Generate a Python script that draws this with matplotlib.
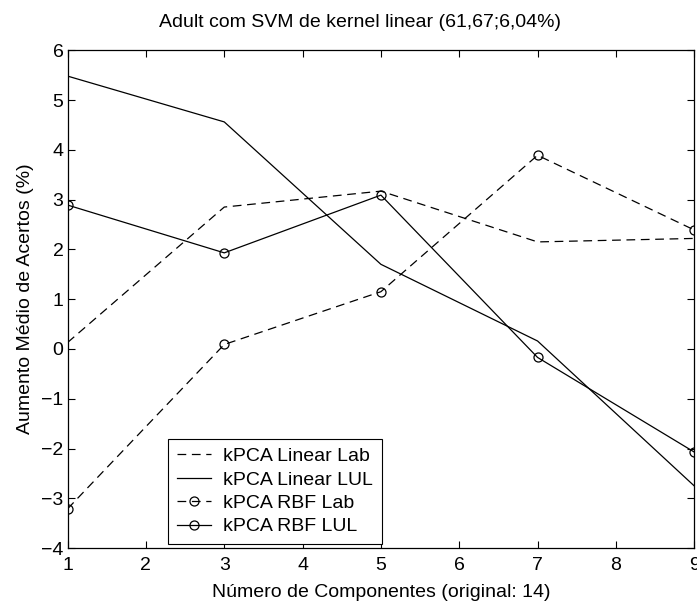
import matplotlib
matplotlib.use("Agg")
import matplotlib.pyplot as plt

plt.rcParams["font.family"] = ["Liberation Sans", "DejaVu Sans"]
plt.rcParams["font.size"] = 14

# Numero de componentes
componentes = [1, 3, 5, 7, 9]

# Aumento medio de acertos (%) para cada variante
linear_lab = [0.13, 2.85, 3.17, 2.15, 2.22]
linear_lul = [5.48, 4.56, 1.70, 0.16, -2.75]
rbf_lab = [-3.21, 0.09, 1.15, 3.89, 2.39]
rbf_lul = [2.89, 1.93, 3.09, -0.17, -2.07]

rotulos = ["kPCA Linear Lab", "kPCA Linear LUL", "kPCA RBF Lab", "kPCA RBF LUL"]

fig = plt.figure(figsize=(6.97, 6.05), dpi=100)
ax = fig.add_axes([0.097, 0.094, 0.899, 0.823])

lw = 0.9
ax.plot(componentes, linear_lab, color="black", lw=lw, dashes=(7, 4.5), label=rotulos[0])
ax.plot(componentes, linear_lul, color="black", lw=lw, label=rotulos[1])
ax.plot(componentes, rbf_lab, color="black", lw=lw, dashes=(7, 4.5), marker="o",
        markersize=6.5, markerfacecolor="none", markeredgewidth=0.9, label=rotulos[2])
ax.plot(componentes, rbf_lul, color="black", lw=lw, marker="o",
        markersize=6.5, markerfacecolor="none", markeredgewidth=0.9, label=rotulos[3])

ax.set_xlim(1, 9)
ax.set_ylim(-4, 6)
ax.set_xticks(range(1, 10))
ax.set_yticks(range(-4, 7))
ax.tick_params(direction="in", top=True, right=True, length=5, width=0.8)
ax.tick_params(axis="x", pad=6.5)
ax.tick_params(axis="y", pad=3)
for s in ax.spines.values():
    s.set_linewidth(0.9)

ax.set_title("Adult com SVM de kernel linear (61,67;6,04%)", fontsize=14,
             x=0.467, y=1.046, pad=0)
ax.set_xlabel("Número de Componentes (original: 14)", labelpad=7)
ax.set_ylabel("Aumento Médio de Acertos (%)", labelpad=5)

leg = ax.legend(loc="lower left", bbox_to_anchor=(0.161, 0.008), borderaxespad=0,
                fancybox=False, edgecolor="black", framealpha=1, handlelength=1.75,
                labelspacing=0.3, borderpad=0.45, handletextpad=0.6, fontsize=14)
leg.get_frame().set_linewidth(0.8)

fig.savefig("out.png", dpi=100)
